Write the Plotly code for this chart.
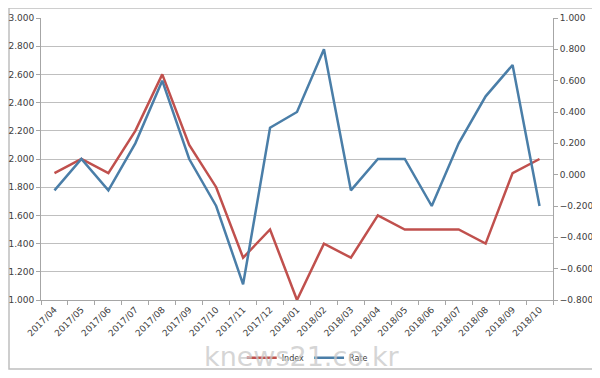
import plotly.graph_objects as go

months = ["2017/04", "2017/05", "2017/06", "2017/07", "2017/08", "2017/09", "2017/10",
          "2017/11", "2017/12", "2018/01", "2018/02", "2018/03", "2018/04", "2018/05",
          "2018/06", "2018/07", "2018/08", "2018/09", "2018/10"]
red_left = [1.9, 2.0, 1.9, 2.2, 2.6, 2.1, 1.8, 1.3, 1.5, 1.0, 1.4, 1.3, 1.6, 1.5,
            1.5, 1.5, 1.4, 1.9, 2.0]
blue_right = [-0.1, 0.1, -0.1, 0.2, 0.6, 0.1, -0.2, -0.7, 0.3, 0.4, 0.8, -0.1, 0.1, 0.1,
              -0.2, 0.2, 0.5, 0.7, -0.2]

fig = go.Figure()
fig.add_trace(go.Scatter(x=months, y=red_left, mode="lines", name="Index",
                         line=dict(color="#c0504d", width=2.5), yaxis="y"))
fig.add_trace(go.Scatter(x=months, y=blue_right, mode="lines", name="Rate",
                         line=dict(color="#4a7ea8", width=2.5), yaxis="y2"))

tickfont = dict(family="DejaVu Sans", size=9, color="#404040")
fig.update_layout(
    width=592, height=370,
    margin=dict(l=33, r=47, t=10, b=78, autoexpand=False),
    paper_bgcolor="white", plot_bgcolor="white",
    showlegend=True,
    legend=dict(orientation="h", x=0.52, xanchor="center", y=-0.205, yanchor="middle",
                font=dict(family="DejaVu Sans", size=8, color="#404040"),
                bgcolor="rgba(0,0,0,0)"),
    xaxis=dict(type="category", range=[-0.5, 18.5], tickangle=-45, tickfont=tickfont,
               automargin=False,
               showline=True, linecolor="#a6a6a6", linewidth=1,
               ticks="outside", ticklen=4, tickcolor="#a6a6a6", tickson="boundaries",
               showgrid=False),
    yaxis=dict(range=[1.0, 3.0], dtick=0.2, tick0=1.0, tickformat=".3f", tickfont=tickfont,
               automargin=False,
               showline=True, linecolor="#a6a6a6", linewidth=1,
               ticks="outside", ticklen=4, tickcolor="#a6a6a6",
               showgrid=True, gridcolor="#bfbfbf", gridwidth=1, zeroline=False),
    yaxis2=dict(range=[-0.8, 1.0], dtick=0.2, tick0=-0.8, tickformat=".3f", tickfont=tickfont,
                automargin=False,
                overlaying="y", side="right",
                showline=True, linecolor="#a6a6a6", linewidth=1,
                ticks="outside", ticklen=4, tickcolor="#a6a6a6",
                showgrid=False, zeroline=False),
)

fig.add_shape(type="rect", xref="paper", yref="paper",
              x0=-0.0625, x1=1.078, y0=-0.245, y1=1.0355,
              line=dict(color="#bfbfbf", width=1.5), fillcolor="rgba(0,0,0,0)", layer="below")

fig.add_annotation(text="knews21.co.kr", xref="paper", yref="paper", x=0.51, y=-0.2,
                   yanchor="middle", showarrow=False,
                   font=dict(family="DejaVu Sans", size=27, color="rgba(200,200,200,0.75)"))

fig.write_html("out.html")
